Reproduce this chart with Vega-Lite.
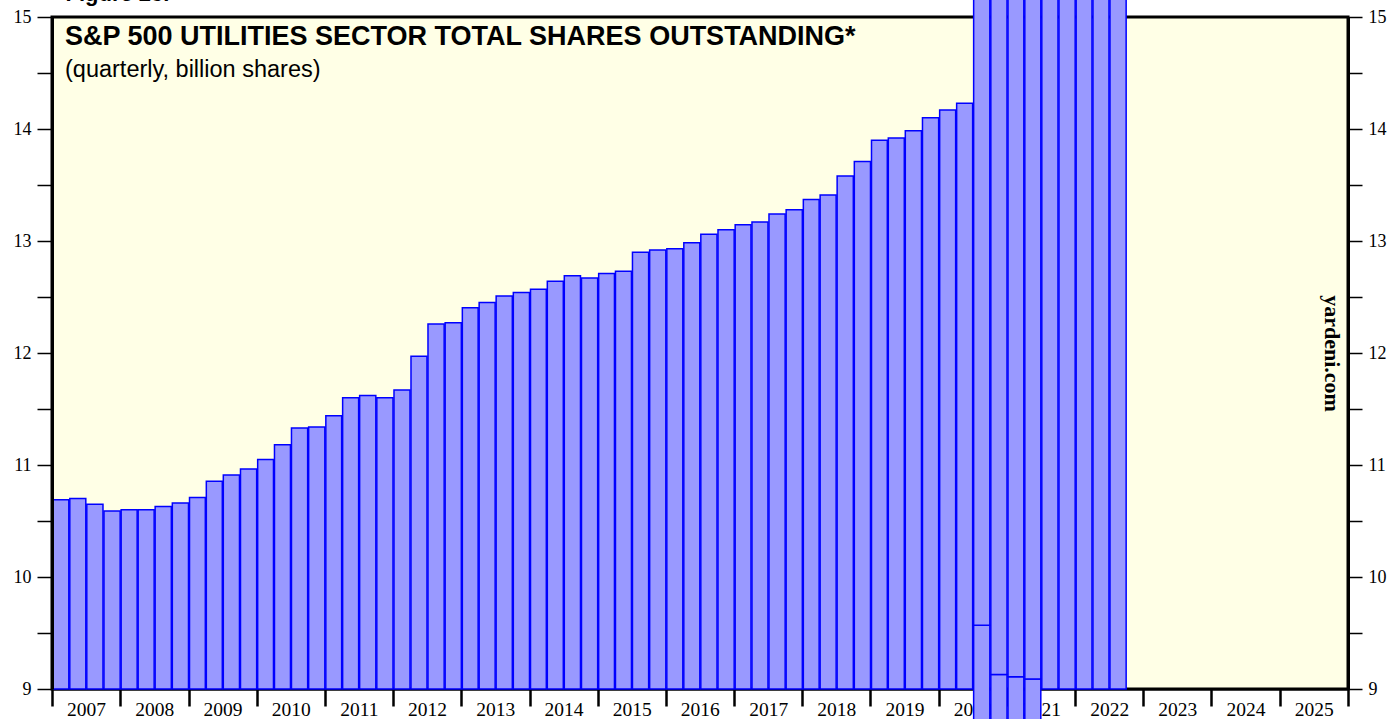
{
  "$schema": "https://vega.github.io/schema/vega-lite/v6.json",
  "width": 1296,
  "height": 672,
  "autosize": {"type": "none"},
  "padding": {"left": 52, "top": 17, "right": 46, "bottom": 30},
  "background": "white",
  "config": {
    "view": {"fill": "#ffffe6", "stroke": "#000000", "strokeWidth": 3},
    "axis": {"grid": false}
  },
  "title": {
    "text": "S&P 500 UTILITIES SECTOR TOTAL SHARES OUTSTANDING*",
    "subtitle": "(quarterly, billion shares)",
    "anchor": "start",
    "frame": "group",
    "orient": "top",
    "offset": -100,
    "dx": 13,
    "font": "Liberation Sans",
    "fontSize": 27,
    "fontWeight": "bold",
    "color": "black",
    "subtitleFont": "Liberation Sans",
    "subtitleFontSize": 23.5,
    "subtitleColor": "black",
    "subtitlePadding": 7
  },
  "datasets": {
    "shares": [
      {"date": "2007-01-01", "value": 10.69}, {"date": "2007-04-01", "value": 10.70}, {"date": "2007-07-01", "value": 10.65}, {"date": "2007-10-01", "value": 10.59},
      {"date": "2008-01-01", "value": 10.60}, {"date": "2008-04-01", "value": 10.60}, {"date": "2008-07-01", "value": 10.63}, {"date": "2008-10-01", "value": 10.66},
      {"date": "2009-01-01", "value": 10.71}, {"date": "2009-04-01", "value": 10.855}, {"date": "2009-07-01", "value": 10.91}, {"date": "2009-10-01", "value": 10.965},
      {"date": "2010-01-01", "value": 11.05}, {"date": "2010-04-01", "value": 11.18}, {"date": "2010-07-01", "value": 11.33}, {"date": "2010-10-01", "value": 11.34},
      {"date": "2011-01-01", "value": 11.44}, {"date": "2011-04-01", "value": 11.60}, {"date": "2011-07-01", "value": 11.62}, {"date": "2011-10-01", "value": 11.60},
      {"date": "2012-01-01", "value": 11.67}, {"date": "2012-04-01", "value": 11.97}, {"date": "2012-07-01", "value": 12.26}, {"date": "2012-10-01", "value": 12.27},
      {"date": "2013-01-01", "value": 12.405}, {"date": "2013-04-01", "value": 12.45}, {"date": "2013-07-01", "value": 12.51}, {"date": "2013-10-01", "value": 12.54},
      {"date": "2014-01-01", "value": 12.57}, {"date": "2014-04-01", "value": 12.64}, {"date": "2014-07-01", "value": 12.69}, {"date": "2014-10-01", "value": 12.67},
      {"date": "2015-01-01", "value": 12.71}, {"date": "2015-04-01", "value": 12.73}, {"date": "2015-07-01", "value": 12.90}, {"date": "2015-10-01", "value": 12.92},
      {"date": "2016-01-01", "value": 12.93}, {"date": "2016-04-01", "value": 12.985}, {"date": "2016-07-01", "value": 13.06}, {"date": "2016-10-01", "value": 13.10},
      {"date": "2017-01-01", "value": 13.145}, {"date": "2017-04-01", "value": 13.17}, {"date": "2017-07-01", "value": 13.24}, {"date": "2017-10-01", "value": 13.28},
      {"date": "2018-01-01", "value": 13.37}, {"date": "2018-04-01", "value": 13.41}, {"date": "2018-07-01", "value": 13.58}, {"date": "2018-10-01", "value": 13.71},
      {"date": "2019-01-01", "value": 13.90}, {"date": "2019-04-01", "value": 13.92}, {"date": "2019-07-01", "value": 13.985}, {"date": "2019-10-01", "value": 14.10},
      {"date": "2020-01-01", "value": 14.17}, {"date": "2020-04-01", "value": 14.23}
    ],
    "glitch": [
      {"date": "2020-07-01", "low": 8.5, "high": 9.57}, {"date": "2020-07-01", "low": 9.57, "high": 15.3},
      {"date": "2020-10-01", "low": 8.5, "high": 9.13}, {"date": "2020-10-01", "low": 9.13, "high": 15.3},
      {"date": "2021-01-01", "low": 8.5, "high": 9.11}, {"date": "2021-01-01", "low": 9.11, "high": 15.3},
      {"date": "2021-04-01", "low": 8.5, "high": 9.09}, {"date": "2021-04-01", "low": 9.09, "high": 15.3},
      {"date": "2021-07-01", "low": 9, "high": 15.3},
      {"date": "2021-10-01", "low": 9, "high": 15.3},
      {"date": "2022-01-01", "low": 9, "high": 15.3},
      {"date": "2022-04-01", "low": 9, "high": 15.3},
      {"date": "2022-07-01", "low": 9, "high": 15.3}
    ]
  },
  "layer": [
    {
      "data": {"name": "shares"},
      "mark": {"type": "bar", "fill": "#9999ff", "stroke": "#0000ff", "strokeWidth": 1.5},
      "encoding": {
        "x": {
          "field": "date", "type": "temporal", "timeUnit": "utcyearquarter",
          "scale": {"type": "utc", "domain": [{"year": 2007, "month": 1, "date": 1, "utc": true}, {"year": 2026, "month": 1, "date": 1, "utc": true}]},
          "axis": {
            "orient": "bottom",
            "values": [
              {"year": 2007, "month": 1, "date": 1, "utc": true}, {"year": 2008, "month": 1, "date": 1, "utc": true},
              {"year": 2009, "month": 1, "date": 1, "utc": true}, {"year": 2010, "month": 1, "date": 1, "utc": true},
              {"year": 2011, "month": 1, "date": 1, "utc": true}, {"year": 2012, "month": 1, "date": 1, "utc": true},
              {"year": 2013, "month": 1, "date": 1, "utc": true}, {"year": 2014, "month": 1, "date": 1, "utc": true},
              {"year": 2015, "month": 1, "date": 1, "utc": true}, {"year": 2016, "month": 1, "date": 1, "utc": true},
              {"year": 2017, "month": 1, "date": 1, "utc": true}, {"year": 2018, "month": 1, "date": 1, "utc": true},
              {"year": 2019, "month": 1, "date": 1, "utc": true}, {"year": 2020, "month": 1, "date": 1, "utc": true},
              {"year": 2021, "month": 1, "date": 1, "utc": true}, {"year": 2022, "month": 1, "date": 1, "utc": true},
              {"year": 2023, "month": 1, "date": 1, "utc": true}, {"year": 2024, "month": 1, "date": 1, "utc": true},
              {"year": 2025, "month": 1, "date": 1, "utc": true}, {"year": 2026, "month": 1, "date": 1, "utc": true}
            ],
            "labelExpr": "utcyear(datum.value) > 2025 ? '' : utcFormat(datum.value, '%Y')",
            "labelOffset": 34,
            "tickSize": 17,
            "tickWidth": 2.5,
            "tickColor": "black",
            "domainColor": "black",
            "domainWidth": 2,
            "labelFont": "Liberation Serif",
            "labelFontSize": 19.5,
            "labelColor": "black",
            "labelPadding": -6,
            "labelFlush": false,
            "labelOverlap": false,
            "labelBound": false,
            "title": null
          }
        },
        "y": {
          "field": "value", "type": "quantitative",
          "scale": {"domain": [9, 15], "zero": false, "nice": false},
          "axis": {
            "orient": "left",
            "values": [9, 9.5, 10, 10.5, 11, 11.5, 12, 12.5, 13, 13.5, 14, 14.5, 15],
            "labelExpr": "datum.value % 1 ? '' : format(datum.value, 'd')",
            "tickSize": 15,
            "tickWidth": 1.5,
            "tickColor": "black",
            "domainColor": "black",
            "domainWidth": 3,
            "labelFont": "Liberation Serif",
            "labelFontSize": 18,
            "labelColor": "black",
            "labelPadding": 6,
            "labelOverlap": false,
            "labelBound": false,
            "zindex": 1,
            "title": "Figure 23.",
            "titleAngle": 0,
            "titleAlign": "left",
            "titleBaseline": "alphabetic",
            "titleX": 13,
            "titleY": -17,
            "titleFont": "Liberation Sans",
            "titleFontSize": 22,
            "titleFontWeight": "bold",
            "titleColor": "black",
            "encode": {"ticks": {"update": {"x2": {"signal": "datum.value % 1 ? -8 : -15"}}}}
          }
        },
        "y2": {"datum": 9}
      }
    },
    {
      "data": {"name": "glitch"},
      "mark": {"type": "bar", "fill": "#9999ff", "stroke": "#0000ff", "strokeWidth": 1.5, "clip": false},
      "encoding": {
        "x": {"field": "date", "type": "temporal", "timeUnit": "utcyearquarter"},
        "y": {
          "field": "low", "type": "quantitative",
          "axis": {
            "orient": "right",
            "values": [9, 9.5, 10, 10.5, 11, 11.5, 12, 12.5, 13, 13.5, 14, 14.5, 15],
            "labelExpr": "datum.value % 1 ? '' : format(datum.value, 'd')",
            "tickSize": 14,
            "tickWidth": 1.5,
            "tickColor": "black",
            "domainColor": "black",
            "domainWidth": 3,
            "labelFont": "Liberation Serif",
            "labelFontSize": 18,
            "labelColor": "black",
            "labelPadding": 6,
            "labelOverlap": false,
            "labelBound": false,
            "title": "yardeni.com",
            "titleAngle": 90,
            "titleAlign": "center",
            "titleBaseline": "middle",
            "titleX": -17,
            "titleY": 336,
            "titleFont": "Liberation Serif",
            "titleFontSize": 22,
            "titleFontWeight": "bold",
            "titleColor": "black",
            "encode": {"ticks": {"update": {"x2": {"signal": "datum.value % 1 ? 7 : 14"}}}}
          }
        },
        "y2": {"field": "high"}
      }
    }
  ],
  "resolve": {"axis": {"y": "independent"}}
}
